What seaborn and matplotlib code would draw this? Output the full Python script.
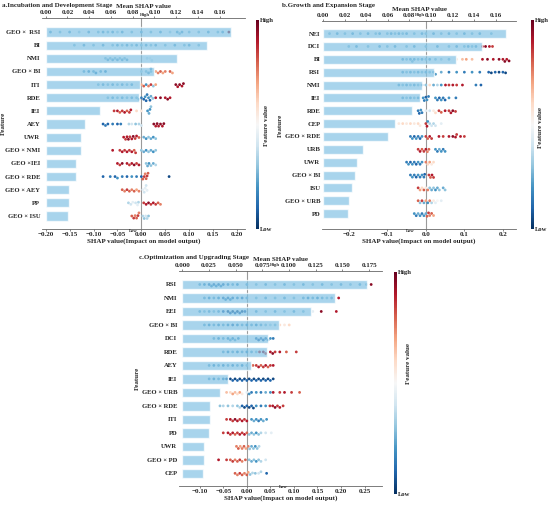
import numpy as np
import pandas as pd
import matplotlib
matplotlib.use("Agg")
import matplotlib.pyplot as plt
import seaborn as sns
import warnings

warnings.filterwarnings("ignore")

# Panel a: Incubation and Development Stage
feats_a = ["GEO ×  RSI", "BI", "NMI", "GEO × BI", "ITI", "RDE", "IEI", "AEY", "UWR",
           "GEO × NMI", "GEO ×IEI", "GEO × RDE", "GEO × AEY", "PP", "GEO × ISU"]
mean_a = [0.170, 0.148, 0.121, 0.0995, 0.0866, 0.0854, 0.0499, 0.0361, 0.0324,
          0.0321, 0.0278, 0.0275, 0.0217, 0.0211, 0.0205]
# (shap value, feature value) pairs
pts_a = {
    "GEO ×  RSI": [(-0.19, .25), (-0.17, .3), (-0.15, .25), (-0.13, .35), (-0.11, .25), (-0.09, .3),
                   (-0.08, .25), (-0.07, .3), (-0.06, .25), (-0.05, .35), (-0.04, .25), (-0.02, .3),
                   (0.0, .25), (0.02, .3), (0.04, .25), (0.06, .35), (0.075, .25), (0.08, .3),
                   (0.085, .25), (0.10, .3), (0.12, .3), (0.14, .25), (0.16, .3), (0.17, .25),
                   (0.183, .95)],
    "BI": [(-0.14, .3), (-0.12, .25), (-0.1, .3), (-0.08, .25), (-0.06, .3), (-0.05, .25), (-0.04, .3),
           (-0.03, .25), (-0.02, .3), (-0.01, .25), (0.0, .3), (0.01, .25), (0.02, .3), (0.03, .25),
           (0.05, .3), (0.07, .25), (0.09, .3), (0.1, .25), (0.12, .3)],
    "NMI": [(-0.075, .3), (-0.07, .25), (-0.065, .3), (-0.06, .25), (-0.055, .3), (-0.05, .25),
            (-0.045, .3), (-0.04, .25), (-0.035, .3), (-0.03, .25), (0.012, .4), (0.018, .45), (0.022, .4)],
    "GEO × BI": [(-0.12, .25), (-0.11, .2), (-0.1, .25), (-0.095, .2), (-0.085, .25), (-0.075, .2),
                 (0.0, .35), (0.01, .3), (0.015, .25), (0.02, .3), (0.02, .2), (0.03, .7), (0.035, .75),
                 (0.04, .8), (0.045, .7), (0.05, .75), (0.06, .8), (0.065, .7)],
    "ITI": [(-0.09, .3), (-0.08, .25), (-0.07, .3), (-0.06, .25), (-0.05, .3), (-0.04, .25), (-0.03, .3),
            (-0.02, .25), (-0.01, .5), (0.0, .7), (0.005, .8), (0.01, .2), (0.015, .75), (0.02, .85),
            (0.025, .3), (0.03, .7), (0.072, .95), (0.076, .9), (0.08, .95), (0.085, .9), (0.088, .95)],
    "RDE": [(-0.07, .3), (-0.06, .25), (-0.05, .3), (-0.04, .25), (-0.03, .3), (-0.02, .25), (-0.01, .3),
            (-0.005, .25), (0.0, .15), (0.005, .1), (0.008, .2), (0.01, .1), (0.012, .15), (0.015, .2),
            (0.018, .1), (0.02, .25), (0.024, .3), (0.03, .9), (0.04, .95), (0.05, .9), (0.055, .95),
            (0.06, .9)],
    "IEI": [(-0.057, .85), (-0.05, .9), (-0.045, .8), (-0.04, .85), (-0.035, .9), (-0.03, .8),
            (-0.025, .85), (-0.022, .9), (-0.01, .6), (0.0, .55), (0.013, .2), (0.016, .25),
            (0.018, .2), (0.02, .3)],
    "AEY": [(-0.08, .1), (-0.075, .15), (-0.07, .1), (-0.06, .15), (-0.05, .1), (-0.043, .15),
            (-0.026, .35), (-0.02, .4), (-0.012, .3), (-0.005, .35), (0.0, .4), (0.026, .95), (0.03, .9),
            (0.033, .95), (0.036, .9), (0.04, .95), (0.044, .9), (0.047, .95)],
    "UWR": [(-0.037, .9), (-0.033, .85), (-0.03, .9), (-0.027, .95), (-0.024, .85), (-0.02, .9),
            (-0.017, .95), (-0.013, .85), (-0.01, .9), (-0.005, .8), (0.005, .25), (0.01, .2),
            (0.015, .3), (0.02, .25), (0.025, .2), (0.03, .3)],
    "GEO × NMI": [(-0.06, .9), (-0.045, .85), (-0.04, .9), (-0.035, .85), (-0.03, .9), (-0.025, .85),
                  (-0.02, .9), (-0.015, .8), (-0.012, .85), (0.0, .3), (0.005, .25), (0.01, .2),
                  (0.015, .3), (0.02, .25), (0.025, .2), (0.03, .3)],
    "GEO ×IEI": [(-0.05, .9), (-0.045, .85), (-0.04, .95), (-0.03, .9), (-0.025, .85), (-0.02, .9),
                 (-0.015, .95), (-0.01, .85), (-0.005, .9), (0.01, .3), (0.013, .25), (0.016, .2),
                 (0.02, .3), (0.025, .25), (0.03, .35)],
    "GEO × RDE": [(-0.08, .1), (-0.065, .15), (-0.055, .1), (-0.05, .2), (-0.04, .15), (-0.03, .1),
                  (-0.02, .2), (-0.01, .15), (0.0, .1), (0.003, .8), (0.006, .85), (0.008, .75),
                  (0.01, .8), (0.012, .85), (0.014, .8), (0.058, .05)],
    "GEO × AEY": [(-0.04, .8), (-0.035, .75), (-0.03, .85), (-0.025, .8), (-0.02, .75), (-0.015, .8),
                  (-0.01, .7), (-0.005, .75), (0.003, .45), (0.006, .4), (0.008, .45), (0.01, .4),
                  (0.012, .45)],
    "PP": [(-0.027, .35), (-0.022, .4), (-0.018, .45), (-0.012, .4), (-0.008, .45), (-0.006, .35),
           (0.005, .85), (0.01, .9), (0.015, .95), (0.02, .85), (0.025, .9), (0.03, .85), (0.035, .8),
           (0.04, .75)],
    "GEO × ISU": [(-0.02, .8), (-0.016, .85), (-0.013, .75), (-0.01, .8), (-0.007, .85), (-0.005, .75),
                  (0.003, .35), (0.006, .3), (0.009, .4), (0.012, .35), (0.015, .3)],
}

# Panel b: Growth and Expansion Stage
feats_b = ["NEI", "DCI", "BI", "RSI", "NMI", "IEI", "RDE", "CEP", "GEO × RDE", "URB", "UWR",
           "GEO × BI", "ISU", "GEO × URB", "PD"]
mean_b = [0.1693, 0.1471, 0.1233, 0.1032, 0.0915, 0.0896, 0.0829, 0.0667, 0.0606, 0.0371,
          0.0315, 0.0297, 0.0269, 0.0241, 0.0232]
pts_b = {
    "NEI": [(-0.25, .3), (-0.23, .25), (-0.21, .3), (-0.19, .25), (-0.17, .3), (-0.15, .25), (-0.13, .3),
            (-0.12, .25), (-0.1, .3), (-0.09, .25), (-0.08, .3), (-0.07, .25), (-0.06, .3), (-0.05, .25),
            (-0.03, .3), (-0.01, .25), (0.0, .3), (0.02, .25), (0.04, .3), (0.06, .25), (0.08, .3),
            (0.1, .25), (0.12, .3), (0.14, .25), (0.17, .3)],
    "DCI": [(-0.2, .3), (-0.18, .25), (-0.15, .3), (-0.12, .25), (-0.1, .3), (-0.08, .25), (-0.05, .3),
            (-0.03, .25), (0.0, .3), (0.03, .25), (0.06, .3), (0.08, .25), (0.1, .3), (0.11, .25),
            (0.12, .3), (0.13, .25), (0.147, .9), (0.155, .95), (0.165, .9), (0.173, .85)],
    "BI": [(-0.06, .25), (-0.05, .3), (-0.04, .25), (-0.035, .3), (-0.03, .25), (-0.02, .3), (-0.01, .25),
           (0.0, .3), (0.01, .25), (0.025, .3), (0.04, .35), (0.06, .3), (0.08, .55), (0.095, .65),
           (0.105, .7), (0.12, .65), (0.147, .9), (0.16, .95), (0.175, .9), (0.19, .95), (0.2, .9),
           (0.205, .95), (0.21, .9), (0.216, .95)],
    "RSI": [(-0.06, .25), (-0.05, .3), (-0.04, .25), (-0.03, .3), (-0.02, .25), (-0.01, .3), (0.0, .25),
            (0.01, .3), (0.02, .25), (0.025, .2), (0.04, .25), (0.06, .15), (0.08, .2), (0.1, .15),
            (0.12, .2), (0.14, .15), (0.163, .1), (0.17, .05), (0.18, .1), (0.19, .05), (0.2, .1),
            (0.207, .05)],
    "NMI": [(-0.07, .25), (-0.06, .3), (-0.05, .25), (-0.04, .3), (-0.03, .25), (-0.02, .3), (-0.01, .25),
            (0.0, .3), (0.01, .6), (0.02, .25), (0.03, .35), (0.04, .2), (0.051, .9), (0.06, .85),
            (0.07, .9), (0.08, .85), (0.095, .9), (0.13, .15), (0.143, .1)],
    "IEI": [(-0.06, .25), (-0.05, .3), (-0.04, .25), (-0.03, .3), (-0.02, .25), (-0.007, .2), (-0.004, .15),
            (0.0, .1), (0.003, .2), (0.007, .15), (0.025, .2), (0.03, .15), (0.035, .1), (0.04, .2),
            (0.045, .15), (0.05, .1), (0.06, .2), (0.078, .15)],
    "RDE": [(-0.02, .15), (-0.017, .1), (-0.013, .2), (-0.01, .15), (0.0, .45), (0.01, .4), (0.02, .55),
            (0.025, .6), (0.034, .85), (0.04, .8), (0.05, .9), (0.06, .85), (0.065, .9), (0.07, .95),
            (0.077, .85)],
    "CEP": [(-0.07, .55), (-0.06, .6), (-0.05, .55), (-0.04, .6), (-0.03, .55), (-0.02, .6), (-0.015, .55),
            (0.0, .85), (0.003, .9), (0.005, .2), (0.01, .35), (0.015, .4), (0.02, .35), (0.025, .4),
            (0.04, .45)],
    "GEO × RDE": [(-0.04, .15), (-0.035, .2), (-0.03, .1), (-0.025, .2), (-0.02, .15), (-0.015, .1),
                  (-0.01, .2), (0.0, .85), (0.005, .8), (0.01, .9), (0.015, .85), (0.034, .9), (0.045, .85),
                  (0.06, .9), (0.07, .95), (0.077, .9), (0.08, .85), (0.09, .9), (0.1, .85)],
    "URB": [(-0.02, .85), (-0.015, .9), (-0.01, .8), (-0.005, .85), (0.0, .9), (0.004, .75), (0.008, .8),
            (0.025, .2), (0.03, .15), (0.035, .25), (0.04, .2), (0.045, .15), (0.05, .2)],
    "UWR": [(-0.05, .15), (-0.045, .2), (-0.04, .1), (-0.035, .2), (-0.03, .15), (-0.025, .1), (-0.02, .2),
            (-0.015, .15), (-0.01, .2), (0.0, .75), (0.005, .6), (0.01, .7), (0.015, .55), (0.02, .6)],
    "GEO × BI": [(-0.04, .15), (-0.035, .2), (-0.03, .15), (-0.025, .1), (-0.02, .2), (-0.015, .15),
                 (-0.01, .2), (-0.005, .15), (-0.003, .1), (0.008, .85), (0.012, .8), (0.016, .9),
                 (0.02, .85)],
    "ISU": [(-0.02, .85), (-0.015, .7), (-0.01, .6), (-0.005, .8), (0.0, .55), (0.005, .75), (0.01, .3),
            (0.015, .25), (0.02, .3), (0.025, .2), (0.03, .25), (0.035, .3), (0.045, .25), (0.05, .3)],
    "GEO × URB": [(-0.02, .8), (-0.015, .3), (-0.01, .85), (-0.005, .25), (0.0, .7), (0.005, .2),
                  (0.01, .75), (0.015, .35), (0.02, .55), (0.025, .45), (0.03, .5), (0.04, .45)],
    "PD": [(-0.03, .2), (-0.025, .15), (-0.02, .25), (-0.015, .2), (-0.01, .15), (-0.005, .2), (0.0, .25),
           (0.003, .8), (0.007, .85), (0.01, .75), (0.015, .8), (0.02, .7)],
}

# Panel c: Optimization and Upgrading Stage
feats_c = ["RSI", "NMI", "EEI", "GEO × BI", "DCI", "RDE", "AEY", "IEI", "GEO × URB", "GEO × RDE",
           "ITI", "PD", "UWR", "GEO × PD", "CEP"]
mean_c = [0.1734, 0.143, 0.1208, 0.0909, 0.080, 0.0794, 0.0642, 0.0429, 0.0358, 0.0259,
          0.0259, 0.025, 0.0204, 0.0204, 0.0192]
pts_c = {
    "RSI": [(-0.1, .25), (-0.09, .2), (-0.08, .15), (-0.075, .2), (-0.07, .15), (-0.065, .2), (-0.06, .15),
            (-0.055, .2), (-0.05, .15), (-0.04, .2), (-0.03, .25), (-0.02, .2), (0.0, .25), (0.02, .3),
            (0.04, .25), (0.06, .3), (0.08, .25), (0.1, .3), (0.12, .25), (0.14, .3), (0.16, .25),
            (0.18, .3), (0.2, .25), (0.22, .3), (0.24, .25), (0.254, .3), (0.264, .95)],
    "NMI": [(-0.09, .25), (-0.08, .2), (-0.07, .25), (-0.06, .2), (-0.05, .15), (-0.045, .2), (-0.04, .15),
            (-0.035, .2), (-0.03, .15), (-0.02, .2), (-0.01, .15), (0.0, .25), (0.02, .3), (0.04, .25),
            (0.06, .3), (0.08, .25), (0.1, .3), (0.12, .25), (0.13, .2), (0.14, .25), (0.15, .2),
            (0.16, .25), (0.17, .3), (0.18, .25), (0.195, .9)],
    "EEI": [(-0.1, .25), (-0.09, .3), (-0.08, .25), (-0.07, .3), (-0.06, .25), (-0.05, .1), (-0.04, .05),
            (-0.035, .1), (-0.03, .05), (-0.025, .1), (-0.02, .05), (-0.015, .1), (-0.01, .05), (-0.004, .1),
            (0.02, .25), (0.04, .3), (0.06, .25), (0.08, .3), (0.1, .25), (0.12, .3), (0.14, .45),
            (0.158, .95), (0.19, .9)],
    "GEO × BI": [(-0.09, .25), (-0.08, .2), (-0.07, .25), (-0.06, .2), (-0.05, .25), (-0.04, .2),
                 (-0.03, .15), (-0.02, .2), (-0.01, .25), (0.0, .2), (0.01, .25), (0.02, .2), (0.03, .25),
                 (0.04, .3), (0.05, .35), (0.06, .3), (0.07, .6), (0.08, .55), (0.09, .6)],
    "DCI": [(-0.07, .25), (-0.06, .2), (-0.05, .25), (-0.04, .2), (-0.035, .25), (-0.03, .2), (-0.025, .25),
            (-0.018, .2), (0.02, .15), (0.025, .1), (0.03, .15), (0.035, .1), (0.04, .15), (0.045, .2),
            (0.05, .2), (0.056, .15)],
    "RDE": [(-0.05, .25), (-0.04, .2), (-0.03, .25), (-0.02, .2), (-0.01, .25), (0.0, .2), (0.01, .25),
            (0.02, .3), (0.027, .9), (0.035, .95), (0.04, .85), (0.05, .9), (0.055, .95), (0.06, .85),
            (0.07, .9), (0.084, .8), (0.105, .85)],
    "AEY": [(-0.08, .25), (-0.07, .2), (-0.06, .25), (-0.05, .2), (-0.04, .25), (-0.03, .2), (-0.02, .25),
            (-0.01, .2), (0.0, .3), (0.013, .8), (0.02, .85), (0.025, .9), (0.03, .8), (0.035, .85),
            (0.04, .9), (0.045, .8), (0.05, .85), (0.056, .9)],
    "IEI": [(-0.08, .25), (-0.07, .2), (-0.06, .25), (-0.05, .2), (-0.043, .1), (-0.035, .05), (-0.03, .1),
            (-0.025, .05), (-0.02, .1), (-0.015, .05), (-0.01, .1), (-0.005, .05), (0.0, .1), (0.005, .05),
            (0.01, .1), (0.015, .05), (0.02, .1), (0.025, .05), (0.03, .1), (0.035, .05), (0.04, .1),
            (0.045, .05), (0.05, .1), (0.056, .05)],
    "GEO × URB": [(-0.043, .65), (-0.035, .6), (-0.03, .7), (-0.025, .65), (-0.02, .6), (-0.015, .7),
                  (-0.01, .55), (0.0, .45), (0.005, .2), (0.01, .15), (0.02, .2), (0.03, .15), (0.04, .25),
                  (0.05, .2), (0.056, .9), (0.07, .85), (0.08, .9), (0.095, .85), (0.112, .8)],
    "GEO × RDE": [(-0.057, .3), (-0.05, .35), (-0.04, .3), (-0.03, .35), (-0.02, .3), (-0.015, .35),
                  (-0.01, .1), (-0.005, .05), (0.0, .1), (0.005, .05), (0.01, .1), (0.014, .05), (0.02, .2),
                  (0.03, .15), (0.04, .2), (0.049, .85), (0.055, .9), (0.06, .95), (0.065, .85), (0.07, .9),
                  (0.077, .85)],
    "ITI": [(-0.043, .85), (-0.035, .9), (-0.03, .85), (-0.025, .95), (-0.02, .9), (-0.015, .85), (-0.01, .9),
            (-0.005, .85), (0.0, .9), (0.01, .2), (0.015, .25), (0.02, .2), (0.025, .15), (0.03, .2),
            (0.035, .25), (0.042, .2)],
    "PD": [(-0.05, .85), (-0.04, .9), (-0.035, .85), (-0.03, .9), (-0.025, .8), (-0.02, .85), (-0.015, .9),
           (-0.01, .85), (-0.005, .9), (0.0, .8), (0.005, .3), (0.01, .25), (0.015, .3), (0.02, .2),
           (0.025, .3), (0.03, .35), (0.04, .4), (0.052, .45)],
    "UWR": [(-0.022, .75), (-0.018, .8), (-0.014, .7), (-0.01, .75), (-0.006, .8), (-0.002, .7), (0.003, .75),
            (0.006, .3), (0.01, .25), (0.014, .3), (0.018, .2), (0.022, .3), (0.026, .35)],
    "GEO × PD": [(-0.06, .9), (-0.043, .85), (-0.035, .8), (-0.03, .85), (-0.025, .75), (-0.02, .8),
                 (-0.015, .85), (-0.01, .75), (-0.003, .8), (0.005, .3), (0.01, .25), (0.015, .3), (0.02, .2),
                 (0.025, .3), (0.03, .35), (0.04, .4)],
    "CEP": [(-0.025, .8), (-0.02, .75), (-0.015, .85), (-0.01, .8), (-0.005, .75), (0.0, .8), (0.003, .7),
            (0.007, .3), (0.012, .35), (0.018, .3), (0.025, .4), (0.03, .35), (0.042, .1)],
}

top_ticks_a = [0.00, 0.02, 0.04, 0.06, 0.08, 0.10, 0.12, 0.14, 0.16]
bot_ticks_a = [-0.20, -0.15, -0.10, -0.05, 0.00, 0.05, 0.10, 0.15, 0.20]
top_ticks_b = top_ticks_a
bot_ticks_b = [-0.2, -0.1, 0.0, 0.1, 0.2]
top_ticks_c = [0.000, 0.025, 0.050, 0.075, 0.100, 0.125, 0.150, 0.175]
bot_ticks_c = [-0.10, -0.05, 0.00, 0.05, 0.10, 0.15, 0.20, 0.25]

sns.set_style("white")
plt.rcParams["font.family"] = ["Liberation Serif", "DejaVu Serif"]
plt.rcParams["font.weight"] = "bold"
plt.rcParams["axes.labelweight"] = "bold"
FS = 5

W, H = 550, 505
fig = plt.figure(figsize=(W / 100, H / 100), dpi=100)


def rect(l, t, r, b):
    return [l / W, 1 - b / H, (r - l) / W, (b - t) / H]


def ftext(x, y, s, **kw):
    fig.text(x / W, 1 - y / H, s, **kw)


def panel(ax_box, cb_box, feats, means, pts, top_lim, top_ticks, bot_lim, bot_ticks, ylim, ylab_x):
    # beeswarm on the base axes (bottom scale), bars on the twin (top scale) drawn over it
    ax = fig.add_axes(rect(*ax_box))
    ax_top = ax.twiny()

    rows = [(f, s, v) for f in feats for s, v in pts[f]]
    df = pd.DataFrame(rows, columns=["feature", "shap", "fval"])
    sns.swarmplot(data=df, x="shap", y="feature", hue="fval", order=feats,
                  palette="RdBu_r", hue_norm=(0, 1), size=2.0, linewidth=0,
                  legend=False, ax=ax)
    ax.axvline(0, color="#9a9a9a", lw=0.8, zorder=0)

    sns.barplot(x=means, y=feats, orient="h", color="#84c3e4", saturation=1, alpha=0.7,
                width=0.7, errorbar=None, ax=ax_top)

    ax_top.set_xlim(*top_lim)
    ax_top.set_xticks(top_ticks)
    ax.set_xlim(*bot_lim)
    ax.set_xticks(bot_ticks)
    ax.set_ylim(*ylim)
    ax_top.set_ylim(*ylim)

    ax_top.set_xlabel("Mean SHAP value", fontsize=FS, labelpad=1)
    ax.set_xlabel("SHAP value(Impact on model output)", fontsize=FS, labelpad=0.5)
    ax.set_ylabel("Feature", fontsize=FS)
    x0, x1 = ax_box[0], ax_box[2]
    ax.yaxis.set_label_coords((ylab_x - x0) / (x1 - x0), 0.5)
    ax_top.set_ylabel("")

    for a in (ax, ax_top):
        a.tick_params(axis="x", labelsize=FS, length=1.5, width=0.5, pad=0.8, color="#555555")
        for sp in a.spines.values():
            sp.set_visible(False)
    ax.tick_params(axis="y", labelsize=4.8, length=0, pad=1.2)
    ax_top.spines["top"].set_visible(True)
    ax.spines["bottom"].set_visible(True)
    for sp in (ax_top.spines["top"], ax.spines["bottom"]):
        sp.set_color("#666666")
        sp.set_linewidth(0.6)

    cax = fig.add_axes(rect(*cb_box))
    sm = matplotlib.cm.ScalarMappable(cmap="RdBu_r", norm=matplotlib.colors.Normalize(0, 1))
    cb = fig.colorbar(sm, cax=cax, ticks=[0, 1])
    cb.set_ticklabels(["Low", "High"])
    cb.outline.set_visible(False)
    cax.tick_params(labelsize=4.8, length=0, pad=1)
    return ax, ax_top


panel((42, 18, 245, 229), (256, 20, 259, 229), feats_a, mean_a, pts_a,
      (-0.0034, 0.1833), top_ticks_a, (-0.2077, 0.2167), bot_ticks_a, (14.99, -1.07), 6)
panel((322, 21, 516, 229), (531, 20, 534, 229), feats_b, mean_b, pts_b,
      (-0.001, 0.179), top_ticks_b, (-0.2695, 0.234), bot_ticks_b, (15.2, -0.98), 283)
panel((179, 271, 382, 486), (394, 272, 397, 494), feats_c, mean_c, pts_c,
      (-0.003, 0.187), top_ticks_c, (-0.144, 0.287), bot_ticks_c, (14.94, -1.0), 140)

ftext(2, 6, "a.Incubation and Development Stage", fontsize=FS, ha="left", va="center")
ftext(282, 6, "b.Growth and Expansion Stage", fontsize=FS, ha="left", va="center")
ftext(139, 258, "c.Optimization and Upgrading Stage", fontsize=FS, ha="left", va="center")

for x, y in [(267, 125), (541, 127), (408, 363)]:
    ftext(x, y, "Feature value", fontsize=FS, rotation=90, ha="center", va="center")

for x, y, s in [(145, 15, "High"), (133, 231, "Low"), (420, 15, "High"), (410, 231, "Low"),
                (275, 265, "High"), (283, 487, "Low")]:
    ftext(x, y, s, fontsize=3.3, ha="center", va="center")

fig.savefig("out.png", dpi=100)
